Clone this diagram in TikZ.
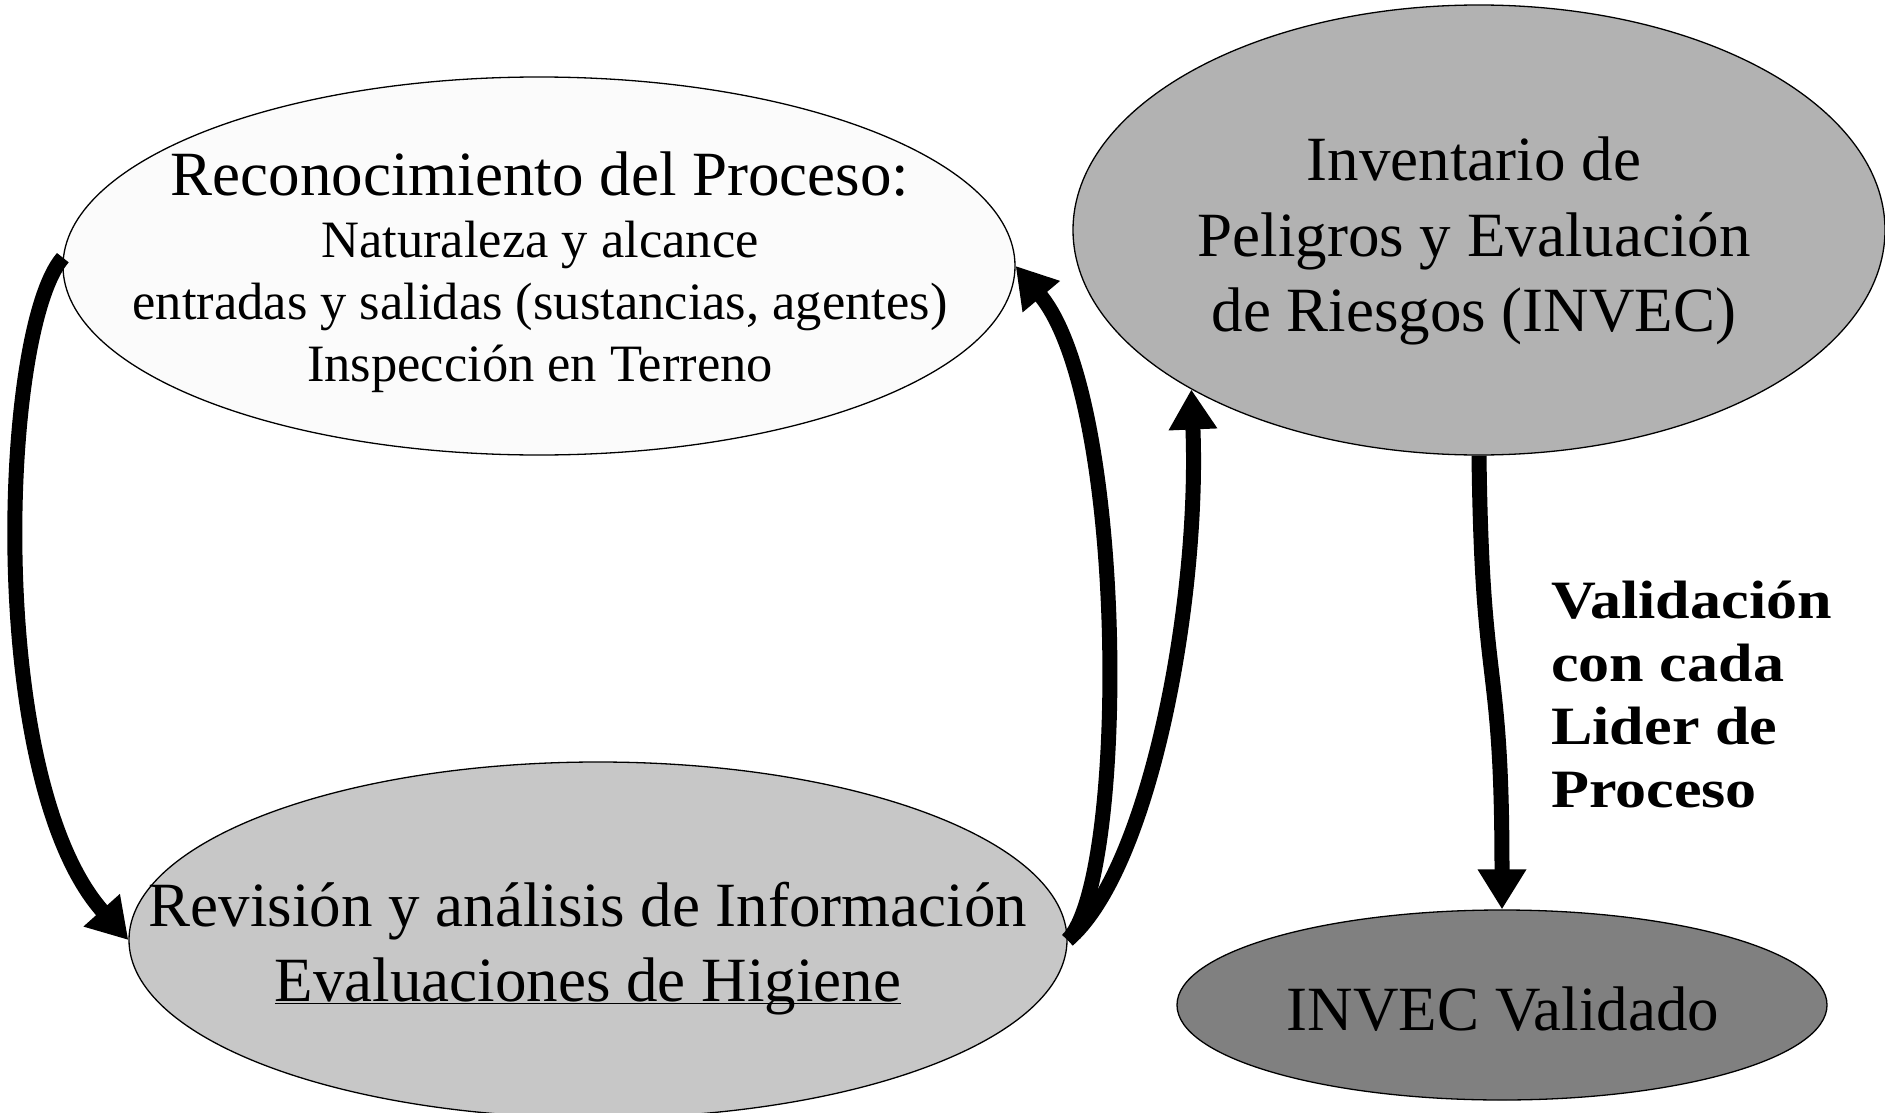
\documentclass[tikz,border=0pt]{standalone}
\usepackage{fontspec}
\setmainfont{Liberation Serif}
\newfontfamily\anchafuente[FakeStretch=1.15]{Liberation Serif}
\usetikzlibrary{shapes.geometric,arrows.meta}
\tikzset{
  etapa/.style={ellipse,draw=black,line width=1.3pt,inner sep=0pt},
  flecha/.style={line width=15pt,-{Triangle[width=46pt,length=40pt]}},
  texto/.style={align=center,inner sep=0pt,font=\fontsize{63}{75.5}\selectfont}
}
\begin{document}
\begin{tikzpicture}[x=1pt,y=-1pt]
\useasboundingbox (0,0) rectangle (1885,1113);
%					Las etapas :
\node[etapa,fill=gray!3,minimum width=952pt,minimum height=378pt] (reco) at (539,266) {};
\node[etapa,fill=black!30,minimum width=812pt,minimum height=450pt] (inv) at (1479,230) {};
\node[etapa,fill=black!22,minimum width=938pt,minimum height=356pt] (revi) at (598,940) {};
\node[etapa,fill=black!50,minimum width=650pt,minimum height=190pt] (dval) at (1502,1005) {};
%					Los textos :
\node[texto,font=\fontsize{52.5}{62}\selectfont] (tReco) at (540,272) {{\fontsize{63}{66}\selectfont Reconocimiento del Proceso:}\\ Naturaleza y alcance\\ entradas y salidas (sustancias, agentes)\\ Inspección en Terreno};
\node[texto] (tInv) at (1474,241) {Inventario de\\ Peligros y Evaluación\\ de Riesgos (INVEC)};
\node[texto] (tRevi) at (588,943) {Revisión y análisis de Información\\ \underline{\smash{Evaluaciones de Higiene}}};
\node[texto] (tVal) at (1503,1009) {INVEC Validado};
\node[anchor=north west,align=left,inner sep=0pt,font=\anchafuente\bfseries\fontsize{54}{63}\selectfont] (valida) at (1551,581) {Validación\\ con cada\\ Lider de\\ Proceso};
%					Las flechas :
\draw[flecha] (reco.179) .. controls (0,330) and (-15,780) .. (revi.west);
\draw[flecha] (revi.east) .. controls (1128,880) and (1128,400) .. (reco.east);
\draw[flecha] (revi.east) .. controls (1150,870) and (1200,600) .. (inv.209);
\draw[flecha] (inv.south) .. controls (1482,700) and (1502,650) .. (dval.north);
\end{tikzpicture}
\end{document}
